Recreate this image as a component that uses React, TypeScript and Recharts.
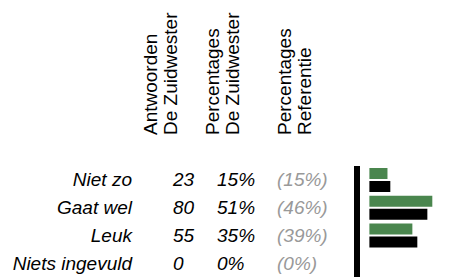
import React from 'react';
import { BarChart, Bar, XAxis, YAxis, Customized } from 'recharts';

const categories = ['Niet zo', 'Gaat wel', 'Leuk', 'Niets ingevuld'];
const counts = ['23', '80', '55', '0'];
const pctZuidwesterLabels = ['15%', '51%', '35%', '0%'];
const pctReferentieLabels = ['(15%)', '(46%)', '(39%)', '(0%)'];
const barZuidwester = [14.6, 50.8, 34.7, 0];
const barReferentie = [16.9, 46.8, 38.7, 0];
const headers = [
  ['Antwoorden', 'De Zuidwester'],
  ['Percentages', 'De Zuidwester'],
  ['Percentages', 'Referentie'],
];

const data = categories.map((c, i) => ({
  label: c,
  count: counts[i],
  pz: pctZuidwesterLabels[i],
  pr: pctReferentieLabels[i],
  zuidwester: barZuidwester[i],
  referentie: barReferentie[i],
}));

const FONT = '"Liberation Sans", Arial, sans-serif';
const FS = 19;

const RowTick = (props: any) => {
  const { y, payload } = props;
  const row = data[payload.index] || data.find((d) => d.label === payload.value);
  return (
    <g fontFamily={FONT} fontSize={FS} fontStyle="italic">
      <text x={132} y={y} dy={6.5} textAnchor="end" fill="#000">{payload.value}</text>
      <text x={173} y={y} dy={6.5} textAnchor="start" fill="#000">{row.count}</text>
      <text x={217} y={y} dy={6.5} textAnchor="start" fill="#000">{row.pz}</text>
      <text x={277} y={y} dy={6.5} textAnchor="start" fill="#999999">{row.pr}</text>
    </g>
  );
};

const headerX = [157, 219, 291];

const Headers = () => (
  <g fontFamily={FONT} fontSize={FS} fill="#000">
    {headers.map((lines, i) =>
      lines.map((t, j) => {
        const x = headerX[i] + j * 20;
        return (
          <text key={i + '-' + j} x={x} y={135} transform={`rotate(-90 ${x} 135)`} textAnchor="start">
            {t}
          </text>
        );
      })
    )}
  </g>
);

export default function App() {
  return (
    <div style={{ position: 'absolute', left: 0, top: 0, background: '#fff' }}>
      <BarChart
        width={467}
        height={280}
        data={data}
        layout="vertical"
        margin={{ top: 166, right: 1, bottom: 3, left: 0 }}
        barSize={11}
        barGap={2}
        barCategoryGap={2}
      >
        <XAxis type="number" domain={[-10, 78]} hide allowDataOverflow />
        <YAxis
          type="category"
          dataKey="label"
          width={357}
          tickLine={false}
          axisLine={{ stroke: '#000', strokeWidth: 6 }}
          tick={<RowTick />}
          interval={0}
        />
        <Bar dataKey="zuidwester" fill="#4a864e" isAnimationActive={false} />
        <Bar dataKey="referentie" fill="#000000" isAnimationActive={false} />
        <Customized component={Headers} />
      </BarChart>
    </div>
  );
}
